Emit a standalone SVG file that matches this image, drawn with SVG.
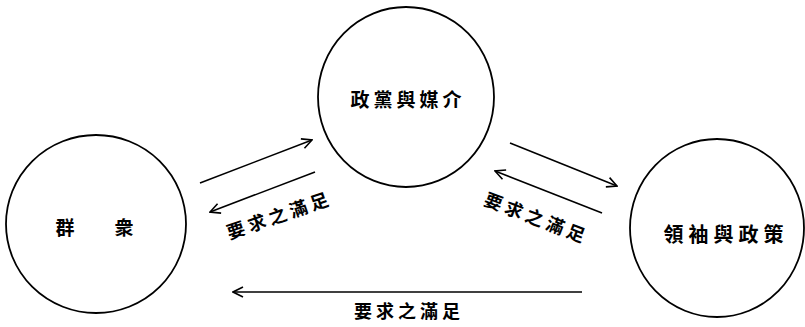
<svg xmlns="http://www.w3.org/2000/svg" width="805" height="327" viewBox="0 0 805 327">
<style>
.node{fill:none;stroke:#000;stroke-width:1.8}
.lbl{font-family:"Noto Sans CJK TC","Noto Sans CJK SC",sans-serif;font-weight:700;fill:#000;text-anchor:middle;dominant-baseline:central}
.conn{stroke:#000;stroke-width:1.6;fill:none;marker-end:url(#arr)}
</style>
<defs>
<marker id="arr" viewBox="0 0 12 12" refX="11" refY="6" markerWidth="12" markerHeight="12" markerUnits="userSpaceOnUse" orient="auto">
<path d="M1,1 L11,6 L1,11" fill="none" stroke="#000" stroke-width="1.6"/>
</marker>
</defs>
<rect width="805" height="327" fill="#fff"/>
<g id="node-media">
<ellipse class="node" cx="406" cy="97" rx="88" ry="90"/>
<text class="lbl" x="408" y="98" font-size="19" letter-spacing="4">政黨與媒介</text>
</g>
<g id="node-masses">
<ellipse class="node" cx="96" cy="224" rx="90" ry="89"/>
<text class="lbl" y="226" font-size="19"><tspan x="65">群</tspan><tspan x="124">衆</tspan></text>
</g>
<g id="node-leaders">
<ellipse class="node" cx="717" cy="228" rx="87" ry="89"/>
<text class="lbl" x="726" y="233" font-size="20" letter-spacing="5">領袖與政策</text>
</g>
<g id="connectors">
<line class="conn" x1="200" y1="183" x2="312" y2="140"/>
<line class="conn" x1="315" y1="172" x2="210" y2="212"/>
<line class="conn" x1="510" y1="143" x2="617" y2="186"/>
<line class="conn" x1="602" y1="213" x2="495" y2="171"/>
<line class="conn" x1="582" y1="292" x2="233" y2="292"/>
<text class="lbl" x="279" y="214" font-size="18" letter-spacing="4" transform="rotate(-19 279 214)">要求之滿足</text>
<text class="lbl" x="537" y="217" font-size="18" letter-spacing="4" transform="rotate(21 537 217)">要求之滿足</text>
<text class="lbl" x="409" y="310" font-size="18" letter-spacing="4">要求之滿足</text>
</g>
</svg>
